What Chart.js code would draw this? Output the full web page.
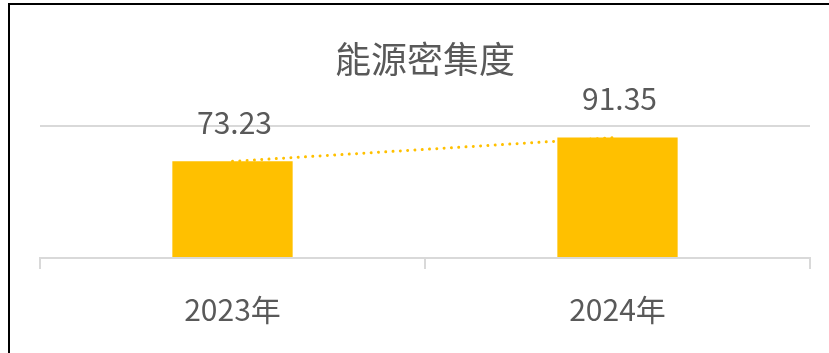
<!DOCTYPE html>
<html>
<head>
<meta charset="utf-8">
<script src="https://cdn.jsdelivr.net/npm/chart.js@4/dist/chart.umd.min.js"></script>
<style>
  html, body { margin: 0; padding: 0; background: #fff; overflow: hidden; }
  #wrap { position: relative; width: 829px; height: 353px; }
  #frame {
    position: absolute; left: 8px; top: 3px; width: 900px; height: 400px;
    border-left: 2px solid #000; border-top: 2px solid #000;
  }
  #c { position: absolute; left: 0; top: 0; }
</style>
</head>
<body>
<div id="wrap">
  <div id="frame"></div>
  <canvas id="c" width="829" height="353"></canvas>
</div>
<script>
// Energy intensity by year
const titleText = '能源密集度';
const years = ['2023年', '2024年'];
const intensity = [73.23, 91.35];
const yTicks = [0, 100];

const textColor = '#595959';
const barColor = '#FFC000';
const gridColor = '#D9D9D9';
const fontFamily = '"Noto Sans CJK TC", "Noto Sans", sans-serif';

// Value labels above each bar
const barValueLabels = {
  id: 'barValueLabels',
  afterDatasetsDraw(chart) {
    const meta = chart.getDatasetMeta(0);
    const ctx = chart.ctx;
    ctx.save();
    ctx.font = '30px ' + fontFamily;
    ctx.fillStyle = textColor;
    ctx.textAlign = 'center';
    ctx.textBaseline = 'middle';
    meta.data.forEach((bar, i) => {
      ctx.fillText(intensity[i].toFixed(2), bar.x + 2, bar.y - 39);
    });
    ctx.restore();
  }
};

new Chart(document.getElementById('c'), {
  type: 'bar',
  data: {
    labels: years,
    datasets: [
      {
        type: 'bar',
        data: intensity,
        backgroundColor: barColor,
        barPercentage: 0.625,
        categoryPercentage: 0.5,
        order: 2
      },
      {
        type: 'line',
        data: intensity,
        borderColor: barColor,
        borderWidth: 3,
        borderDash: [0.01, 7.3],
        borderCapStyle: 'round',
        pointRadius: 0,
        fill: false,
        tension: 0,
        order: 1
      }
    ]
  },
  options: {
    responsive: false,
    animation: false,
    events: [],
    layout: { padding: { left: 40, right: 19, top: 0, bottom: 2 } },
    plugins: {
      legend: { display: false },
      tooltip: { enabled: false },
      title: {
        display: true,
        text: titleText,
        color: textColor,
        font: { family: fontFamily, size: 36, weight: 'normal', lineHeight: 1.2 },
        padding: { top: 37.5, bottom: 45.3 }
      }
    },
    scales: {
      x: {
        offset: true,
        grid: {
          offset: true,
          drawOnChartArea: false,
          drawTicks: true,
          tickLength: 11,
          color: gridColor,
          lineWidth: 2
        },
        border: { display: true, color: gridColor, width: 2 },
        ticks: {
          color: textColor,
          font: { family: fontFamily, size: 30 },
          padding: 23,
          maxRotation: 0
        }
      },
      y: {
        min: yTicks[0],
        max: yTicks[yTicks.length - 1],
        afterBuildTicks(scale) { scale.ticks = yTicks.map(v => ({ value: v })); },
        afterFit(scale) { scale.width = 0; },
        ticks: { display: false },
        border: { display: false },
        grid: { color: gridColor, lineWidth: 2, drawTicks: false }
      }
    }
  },
  plugins: [barValueLabels]
});
</script>
</body>
</html>
